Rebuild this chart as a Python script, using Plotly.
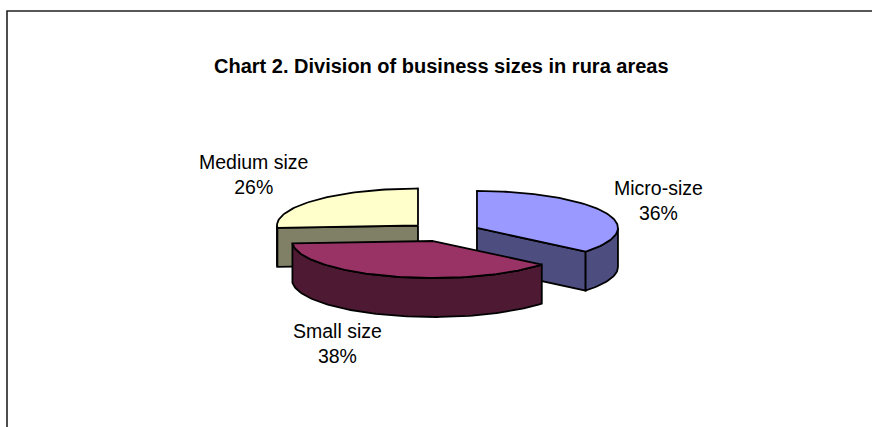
import numpy as np
import plotly.graph_objects as go

# ---- data ----
categories = ["Micro-size", "Small size", "Medium size"]
values = [36, 38, 26]
top_colors = ["#9999FF", "#993366", "#FFFFCC"]
side_colors = ["#4D4D80", "#4D1933", "#808066"]
title_text = "Chart 2. Division of business sizes in rura areas"

# ---- layout / geometry (pixel space) ----
W, H = 872, 427
CX, CY = 444.3, 232.0      # pie centre (before explosion)
RX, RY = 141.0, 37.0       # ellipse radii of projected pie
DEPTH = 39.0               # thickness
EXPLODE = 0.256            # explosion as fraction of radius
START = 90.0               # first slice starts at 12 o'clock, clockwise
LINE_W = 1.8
FONT = "Liberation Sans, Arial, sans-serif"
LABEL_SIZE = 19.5
TITLE_SIZE = 20
label_centers = {"Micro-size": (658, 200), "Small size": (337, 343), "Medium size": (253, 174)}
title_center = (441.5, 66)


def pt(c, th, z=0.0):
    r = np.radians(th)
    return c[0] + RX * np.cos(r), c[1] - RY * np.sin(r) + z


def arc(c, a0, a1, z=0.0):
    n = max(2, int(abs(a1 - a0) / 1.5) + 2)
    ths = np.linspace(a0, a1, n)
    xs, ys = pt(c, ths, z)
    return list(xs), list(ys)


total = float(sum(values))
slices = []
a = START
for i, v in enumerate(values):
    sweep = 360.0 * v / total
    t2 = a
    t1 = a - sweep
    m = 0.5 * (t1 + t2)
    mr = np.radians(m)
    c = (CX + EXPLODE * RX * np.cos(mr), CY - EXPLODE * RY * np.sin(mr))
    slices.append(dict(i=i, t1=t1, t2=t2, m=m, c=c))
    a = t1

# paint back to front
slices.sort(key=lambda s: s["c"][1])

fig = go.Figure()


def add_poly(xs, ys, color):
    fig.add_trace(go.Scatter(
        x=xs + [xs[0]], y=ys + [ys[0]], mode="lines", fill="toself",
        fillcolor=color, line=dict(color="black", width=LINE_W),
        hoverinfo="skip", showlegend=False))


for s in slices:
    c, t1, t2, i = s["c"], s["t1"], s["t2"], s["i"]
    side = side_colors[i]
    # radial faces
    for t, visible in ((t1, np.cos(np.radians(t1)) > 1e-6),
                       (t2, np.cos(np.radians(t2)) < -1e-6)):
        if visible:
            rx0, ry0 = pt(c, t, 0)
            rx1, ry1 = pt(c, t, DEPTH)
            add_poly([c[0], float(rx0), float(rx1), c[0]],
                     [c[1], float(ry0), float(ry1), c[1] + DEPTH], side)
    # curved outer side (front half only)
    for k in range(-2, 3):
        lo = max(t1, -180 + 360 * k)
        hi = min(t2, 0 + 360 * k)
        if hi > lo:
            xa, ya = arc(c, lo, hi, 0)
            xb, yb = arc(c, hi, lo, DEPTH)
            add_poly(xa + xb, ya + yb, side)
    # top face
    xa, ya = arc(c, t1, t2, 0)
    add_poly([c[0]] + xa, [c[1]] + ya, top_colors[i])

# labels
for cat, v in zip(categories, values):
    x, y = label_centers[cat]
    fig.add_annotation(x=x, y=y, xref="x", yref="y", text=f"{cat}<br>{v}%",
                       showarrow=False, xanchor="center", yanchor="middle",
                       align="center", font=dict(family=FONT, size=LABEL_SIZE, color="black"))

fig.add_annotation(x=title_center[0], y=title_center[1], xref="x", yref="y",
                   text=f"<b>{title_text}</b>", showarrow=False,
                   xanchor="center", yanchor="middle",
                   font=dict(family=FONT, size=TITLE_SIZE, color="black"))

# chart border: only left and top edges fall inside the picture
fig.add_shape(type="rect", xref="paper", yref="paper",
              x0=7 / W, y0=-0.2, x1=1.2, y1=1 - 11 / H,
              line=dict(color="#222222", width=1.6), fillcolor="rgba(0,0,0,0)")

fig.update_layout(
    width=W, height=H, margin=dict(l=0, r=0, t=0, b=0),
    paper_bgcolor="white", plot_bgcolor="white",
    xaxis=dict(range=[0, W], visible=False, fixedrange=True),
    yaxis=dict(range=[H, 0], visible=False, fixedrange=True),
    showlegend=False,
)

fig.write_html("out.html")
